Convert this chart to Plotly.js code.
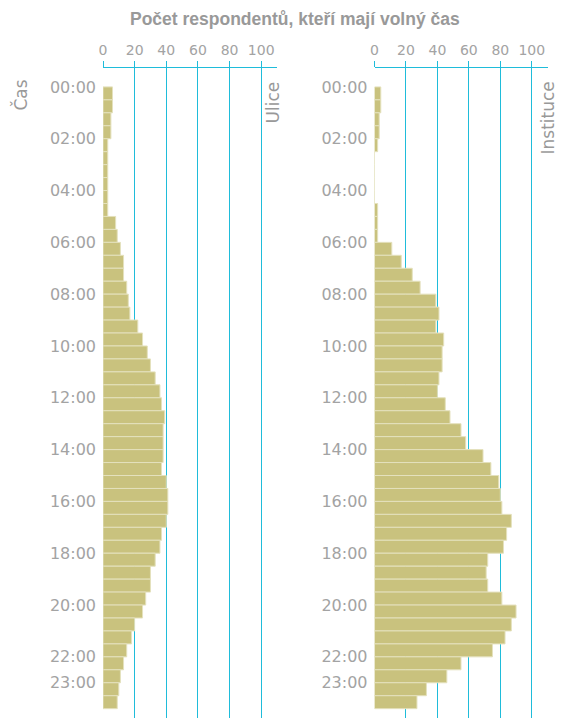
<!DOCTYPE html>
<html>
<head>
<meta charset="utf-8">
<script src="https://cdn.plot.ly/plotly-3.0.1.min.js"></script>
<style>html,body{margin:0;padding:0;background:#fff;}#chart{width:563px;height:718px;}</style>
</head>
<body>
<div id="chart"></div>
<script>
// Half-hour slots (start hour of each slot)
const slotStart = [0,0.5,1,1.5,2,2.5,3,3.5,4,4.5,5,5.5,6,6.5,7,7.5,8,8.5,9,9.5,10,10.5,11,11.5,
                   12,12.5,13,13.5,14,14.5,15,15.5,16,16.5,17,17.5,18,18.5,19,19.5,20,20.5,21,21.5,22,22.5,23,23.5];
// Number of respondents with free time – street ("Ulice")
const ulice = [6,6,5,5,3,3,3,3,3,3,8,9,11,13,13,15,16,17,22,25,28,30,33,36,
               37,39,38,38,38,37,40,41,41,40,37,36,33,30,30,27,25,20,18,15,13,11,10,9];
// Number of respondents with free time – institution ("Instituce")
const instituce = [4,4,3,3,2,0,0,0,0,2,2,2,11,17,24,29,39,41,39,44,43,43,41,40,
                   45,48,55,58,69,74,79,80,81,87,84,82,72,71,72,81,90,87,83,75,55,46,33,27];
const yTickVals = [0,2,4,6,8,10,12,14,16,18,20,22,23];
const yTickText = ["00:00","02:00","04:00","06:00","08:00","10:00","12:00","14:00","16:00","18:00","20:00","22:00","23:00"];
const xTickVals = [0,20,40,60,80,100];
const titleText = "Počet respondentů, kteří mají volný čas";
const panelNames = ["Ulice","Instituce"];
const yAxisName = "Čas";

const W = 563, H = 718, T = 68, B = 0;
const px = x => x / W;
const py = y => (H - B - y) / (H - T - B);

const FONT = "DejaVu Sans";
const CYAN = "#1fbcda";
const TICKGRAY = "#a3a3a3";
const TEXTGRAY = "#999999";
const barFill = "#c9c27e";
const barLine = "#e4e1bd";

function barTrace(vals, xa, ya){
  return {
    type: "bar", orientation: "h",
    x: vals, y: slotStart, width: 0.5, offset: 0,
    xaxis: xa, yaxis: ya,
    marker: {color: barFill, line: {color: barLine, width: 1}},
    hoverinfo: "x+y"
  };
}

function xAx(domain, anchor){
  return {
    domain: domain, anchor: anchor, side: "top", range: [0, 110],
    tickvals: xTickVals, ticks: "outside", ticklen: 6, tickwidth: 1, tickcolor: CYAN,
    showline: true, linecolor: CYAN, linewidth: 1,
    showgrid: true, gridcolor: CYAN, gridwidth: 1, zeroline: false,
    tickfont: {family: FONT, size: 14, color: TICKGRAY}, fixedrange: true
  };
}
function yAx(anchor){
  return {
    anchor: anchor, domain: [0, 1], range: [24.36, -0.73],
    tickvals: yTickVals, ticktext: yTickText, ticks: "",
    showgrid: false, zeroline: false, showline: false,
    ticklabelstandoff: 6,
    tickfont: {family: FONT, size: 16, color: TICKGRAY}, fixedrange: true
  };
}

const data = [barTrace(ulice, "x", "y"), barTrace(instituce, "x2", "y2")];

const layout = {
  width: W, height: H,
  margin: {l: 0, r: 0, t: T, b: B, pad: 0},
  paper_bgcolor: "#ffffff", plot_bgcolor: "rgba(0,0,0,0)",
  showlegend: false,
  font: {family: FONT, color: TEXTGRAY},
  xaxis: xAx([px(103), px(277)], "y"),
  yaxis: yAx("x"),
  xaxis2: xAx([px(374.5), px(547.5)], "y2"),
  yaxis2: yAx("x2"),
  annotations: [
    {text: "<b>" + titleText + "</b>", xref: "paper", yref: "paper", x: px(295), y: py(19),
     xanchor: "center", yanchor: "middle", showarrow: false,
     font: {family: "Liberation Sans", size: 17.5, color: TEXTGRAY}},
    {text: yAxisName, xref: "paper", yref: "paper", x: px(20), y: py(78), textangle: -90,
     xanchor: "center", yanchor: "top", showarrow: false,
     font: {family: FONT, size: 17, color: TEXTGRAY}},
    {text: panelNames[0], xref: "paper", yref: "paper", x: px(272.5), y: py(80), textangle: -90,
     xanchor: "center", yanchor: "top", showarrow: false,
     font: {family: FONT, size: 17, color: TEXTGRAY}},
    {text: panelNames[1], xref: "paper", yref: "paper", x: px(548), y: py(80), textangle: -90,
     xanchor: "center", yanchor: "top", showarrow: false,
     font: {family: FONT, size: 17, color: TEXTGRAY}}
  ]
};

Plotly.newPlot("chart", data, layout, {displayModeBar: false, staticPlot: true});
</script>
</body>
</html>
